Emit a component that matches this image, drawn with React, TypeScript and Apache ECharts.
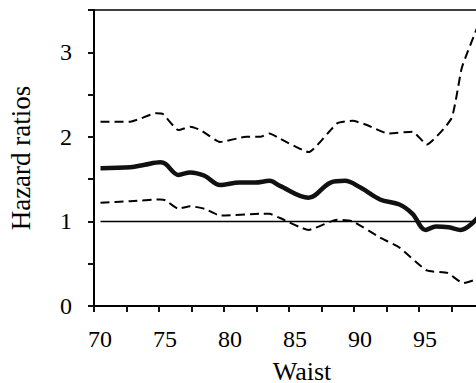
import React, { useEffect, useRef } from "react";
import * as echarts from "echarts";

const upperX = [70.5, 72.8, 74.8, 75.3, 76.5, 77.4, 78.2, 79.7, 81.7, 82.8, 83.5, 84.3, 86.5, 88.7, 89.9, 91, 92.6, 94.5, 95.6, 97.5, 98.3, 99.5];
const upperY = [2.18, 2.18, 2.28, 2.27, 2.08, 2.12, 2.08, 1.94, 2.0, 2.0, 2.04, 1.98, 1.82, 2.16, 2.19, 2.14, 2.04, 2.06, 1.91, 2.22, 2.82, 3.3];

const hrX = [70.5, 72.8, 73.9, 75.1, 75.5, 76.5, 77.4, 78.5, 79.7, 81.2, 82.4, 83.5, 84.3, 86.5, 88.2, 89.3, 90.5, 92, 93.5, 94.5, 95.5, 96.3, 97.3, 98.2, 99.5];
const hrY = [1.63, 1.64, 1.67, 1.7, 1.68, 1.55, 1.58, 1.54, 1.43, 1.46, 1.46, 1.48, 1.42, 1.28, 1.46, 1.48, 1.4, 1.26, 1.2, 1.09, 0.9, 0.94, 0.93, 0.9, 1.04];

const lowerX = [70.5, 72.8, 75.1, 75.5, 76.5, 77.4, 78.5, 79.7, 82.8, 83.5, 84.3, 86.5, 88.7, 89.9, 92, 93.5, 95.6, 97.2, 98.4, 99.5];
const lowerY = [1.22, 1.24, 1.26, 1.25, 1.15, 1.18, 1.15, 1.07, 1.09, 1.09, 1.04, 0.9, 1.02, 1.0, 0.81, 0.69, 0.42, 0.39, 0.27, 0.32];

const refX = [70.5, 100];
const refY = [1, 1];

const xTickLabels = ["70", "75", "80", "85", "90", "95"];
const yTickLabels = ["0", "1", "2", "3"];

const pairs = (xs: number[], ys: number[]) => xs.map((x, i) => [x, ys[i]]);

const FONT = "Liberation Serif";
const TICK = { color: "#111111", width: 2 };

export default function App() {
  const ref = useRef<HTMLDivElement>(null);
  useEffect(() => {
    if (!ref.current) return;
    const chart = echarts.init(ref.current, undefined, { renderer: "svg" });
    chart.setOption({
      animation: false,
      grid: { left: 94, top: 10, right: -8, bottom: 77, outerBoundsMode: "none" },
      xAxis: [
        {
          type: "value",
          min: 70,
          max: 100,
          interval: 5,
          axisLine: { show: true, lineStyle: { color: "#000", width: 2 } },
          axisTick: { show: true, length: 6, lineStyle: TICK },
          minorTick: { show: true, splitNumber: 2, length: 6, lineStyle: TICK },
          splitLine: { show: false },
          axisLabel: {
            margin: 21,
            color: "#000",
            fontFamily: FONT,
            fontSize: 24,
            padding: [0, 0, 0, 12],
            formatter: (v: number) => {
              const s = String(Math.round(v));
              return xTickLabels.includes(s) ? s : "";
            },
          },
        },
        {
          type: "value",
          position: "top",
          min: 70,
          max: 100,
          axisLine: { show: true, lineStyle: { color: "#000", width: 1.5 } },
          axisTick: { show: false },
          axisLabel: { show: false },
          splitLine: { show: false },
        },
      ],
      yAxis: {
        type: "value",
        min: 0,
        max: 3.5,
        interval: 1,
        name: "Hazard ratios",
        nameLocation: "middle",
        nameGap: 60,
        nameTextStyle: { color: "#000", fontFamily: FONT, fontSize: 27 },
        axisLine: { show: true, lineStyle: { color: "#000", width: 2 } },
        axisTick: { show: true, length: 6, lineStyle: TICK },
        minorTick: { show: true, splitNumber: 2, length: 6, lineStyle: TICK },
        splitLine: { show: false },
        axisLabel: {
          margin: 22,
          color: "#000",
          fontFamily: FONT,
          fontSize: 24,
          formatter: (v: number) => {
            const s = String(v);
            return yTickLabels.includes(s) ? s : "";
          },
        },
      },
      graphic: [
        {
          type: "text",
          x: 302,
          y: 371,
          style: {
            text: "Waist",
            fill: "#000",
            fontFamily: FONT,
            fontSize: 26,
            textAlign: "center",
            textVerticalAlign: "middle",
          },
        },
      ],
      series: [
        {
          type: "line",
          data: pairs(refX, refY),
          symbol: "none",
          lineStyle: { color: "#000", width: 1.5 },
        },
        {
          type: "line",
          data: pairs(upperX, upperY),
          symbol: "none",
          smooth: 0.15,
          lineStyle: { color: "#000", width: 2, type: [9, 5] },
        },
        {
          type: "line",
          data: pairs(lowerX, lowerY),
          symbol: "none",
          smooth: 0.15,
          lineStyle: { color: "#000", width: 2, type: [9, 5] },
        },
        {
          type: "line",
          data: pairs(hrX, hrY),
          symbol: "none",
          smooth: 0.35,
          lineStyle: { color: "#111", width: 4.5 },
        },
      ],
    });
    return () => chart.dispose();
  }, []);
  return (
    <div
      ref={ref}
      style={{ position: "fixed", left: 0, top: 0, width: 476, height: 383, background: "#fff" }}
    />
  );
}
